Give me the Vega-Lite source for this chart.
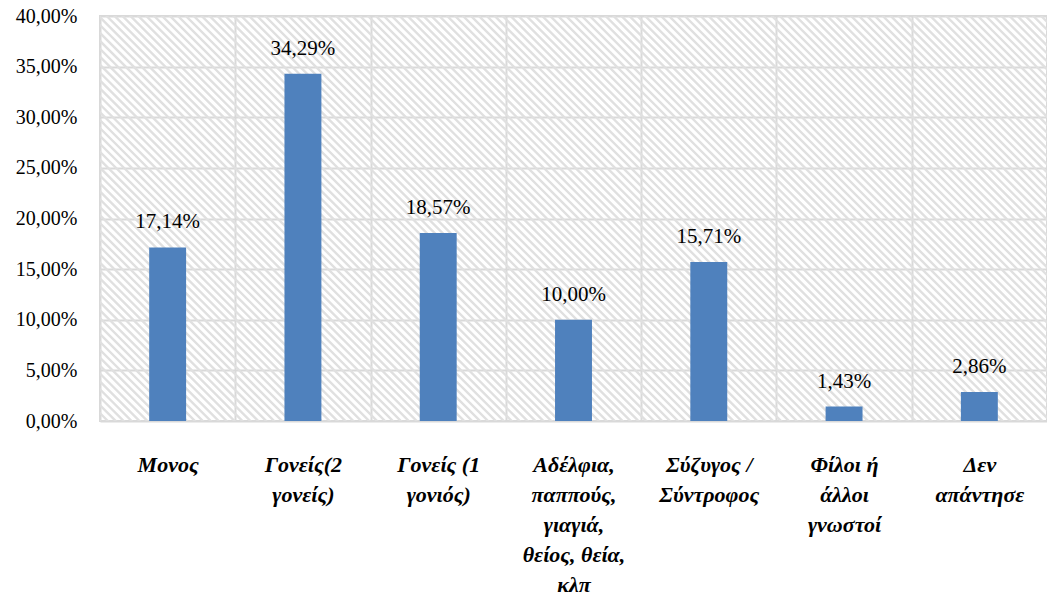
{
  "$schema": "https://vega.github.io/schema/vega-lite/v6.json",
  "width": 947,
  "height": 405,
  "autosize": "none",
  "padding": {"left": 100, "top": 16, "right": 0, "bottom": 186},
  "background": "white",
  "config": {
    "locale": {"number": {"decimal": ",", "thousands": ".", "grouping": [3], "currency": ["", " €"]}},
    "view": {"stroke": "#d9d9d9", "strokeWidth": 2},
    "font": "Liberation Serif",
    "axisX": {
      "tickBand": "extent",
      "grid": true,
      "gridColor": "#d9d9d9",
      "gridWidth": 2,
      "domain": false,
      "ticks": false,
      "tickSize": 0,
      "labelAngle": 0,
      "labelExpr": "split(datum.label, '\\n')",
      "labelFont": "Liberation Serif",
      "labelFontStyle": "italic",
      "labelFontWeight": "bold",
      "labelFontSize": 22,
      "labelLineHeight": 30,
      "labelPadding": 33,
      "labelColor": "#000000",
      "labelLimit": 300
    },
    "axisY": {
      "tickCount": 8,
      "labelExpr": "format(datum.value, '.2%')",
      "domain": false,
      "ticks": false,
      "tickSize": 0,
      "grid": true,
      "gridColor": "#d9d9d9",
      "gridWidth": 2,
      "labelFont": "Liberation Serif",
      "labelFontSize": 20,
      "labelPadding": 23,
      "labelColor": "#000000"
    }
  },
  "resolve": {"scale": {"x": "independent"}, "axis": {"x": "independent"}},
  "layer": [
    {
      "data": {"values": [{"k": 1}]},
      "mark": {"type": "rule", "clip": true, "strokeWidth": 1000, "strokeDash": [2.4, 3.2], "strokeCap": "butt", "stroke": "#e0e0e0"},
      "encoding": {
        "x": {"datum": 0, "type": "quantitative", "title": null, "scale": {"domain": [0, 1], "nice": false, "zero": false}, "axis": null},
        "x2": {"datum": 1},
        "y": {"datum": -0.2677, "type": "quantitative", "title": null, "scale": {"domain": [0, 0.4]}},
        "y2": {"datum": 0.6677}
      }
    },
    {
      "data": {
        "values": [
          {"category": "Μονος", "share": 0.1714},
          {"category": "Γονείς(2\nγονείς)", "share": 0.3429},
          {"category": "Γονείς (1\nγονιός)", "share": 0.1857},
          {"category": "Αδέλφια,\nπαππούς,\nγιαγιά,\nθείος, θεία,\nκλπ", "share": 0.1},
          {"category": "Σύζυγος /\nΣύντροφος", "share": 0.1571},
          {"category": "Φίλοι ή\nάλλοι\nγνωστοί", "share": 0.0143},
          {"category": "Δεν\nαπάντησε", "share": 0.0286}
        ]
      },
      "encoding": {
        "x": {
          "field": "category",
          "type": "nominal",
          "title": null,
          "sort": null,
          "scale": {"paddingInner": 0, "paddingOuter": 0},
          "axis": {"grid": true, "tickBand": "extent", "gridColor": "#d9d9d9", "gridWidth": 2}
        },
        "y": {
          "field": "share",
          "type": "quantitative",
          "title": null,
          "scale": {"domain": [0, 0.4]}
        }
      },
      "layer": [
        {
          "mark": {"type": "bar", "color": "#4f81bd", "width": {"band": 0.273}}
        },
        {
          "mark": {"type": "text", "dy": -19, "baseline": "alphabetic", "fontSize": 21, "color": "#000000"},
          "encoding": {
            "text": {"field": "share", "type": "quantitative", "format": ".2%"}
          }
        }
      ]
    }
  ]
}
